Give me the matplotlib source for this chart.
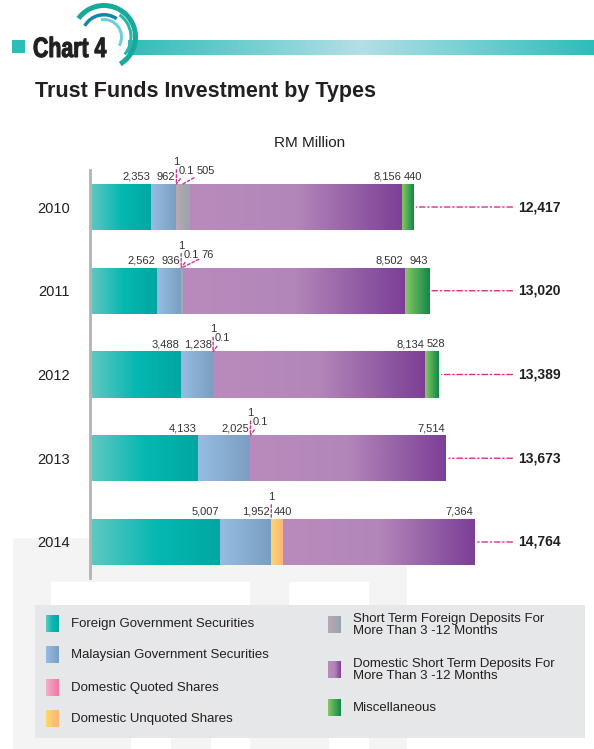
import numpy as np
import matplotlib.pyplot as plt
import matplotlib.transforms as mtransforms
from matplotlib.colors import LinearSegmentedColormap
from matplotlib.patches import Rectangle, Wedge, PathPatch
from matplotlib.textpath import TextPath
from matplotlib.font_manager import FontProperties

plt.rcParams['font.family'] = ['Liberation Sans', 'DejaVu Sans']

# RM million, by year
years = ["2010", "2011", "2012", "2013", "2014"]
totals = [12417, 13020, 13389, 13673, 14764]

foreign_gov = [2353, 2562, 3488, 4133, 5007]
malaysian_gov = [962, 936, 1238, 2025, 1952]
quoted_shares = [1, 1, 1, 1, 1]
unquoted_shares = [0.1, 0.1, 0.1, 0.1, 440]
st_foreign_deposits = [505, 76, 0, 0, 0]
st_domestic_deposits = [8156, 8502, 8134, 7514, 7364]
miscellaneous = [440, 943, 528, 0, 0]

series_names = [
    "Foreign Government Securities",
    "Malaysian Government Securities",
    "Domestic Quoted Shares",
    "Domestic Unquoted Shares",
    "Short Term Foreign Deposits For\nMore Than 3 -12 Months",
    "Domestic Short Term Deposits For\nMore Than 3 -12 Months",
    "Miscellaneous",
]
series = [foreign_gov, malaysian_gov, quoted_shares, unquoted_shares,
          st_foreign_deposits, st_domestic_deposits, miscellaneous]

# left -> right colour stops for each segment
gradients = [
    ["#63c8c2", "#06b8b2", "#00a7a1"],
    ["#95bde3", "#7a9ec0"],
    ["#f6aec8", "#ee77a6"],
    ["#fed86f", "#fbb37b"],
    ["#baa8b2", "#99a4ad"],
    ["#b98bbd", "#b386b9", "#7c3f96"],
    ["#88c765", "#108848"],
]
# quoted shares label sits on a raised row with a leader
raised = [False, False, True, False, False, False, False]

INK = "#231f20"
MAGENTA = "#d6308f"
W, H = 594, 749
ramp = np.linspace(0, 1, 256)[None, :]

fig = plt.figure(figsize=(W / 100, H / 100), dpi=100)

# page layer in pixel units
bg = fig.add_axes([0, 0, 1, 1], zorder=0)
bg.axis('off')

# faint watermark + legend panel
bg.add_patch(Rectangle((13, 538), 394, 211, color="#f4f4f4", lw=0))
for x0, y0, w, h in [(51, 582, 199, 23), (289, 582, 80, 23),
                     (131, 738, 40, 11), (211, 738, 39, 11), (329, 738, 40, 11)]:
    bg.add_patch(Rectangle((x0, y0), w, h, color="white", lw=0))
bg.add_patch(Rectangle((35, 605), 550, 133, color="#e6e7e8", lw=0))

# header strip
bg.add_patch(Rectangle((12, 40), 13, 13, color="#2cbdb7", lw=0))
band = LinearSegmentedColormap.from_list("band", ["#2fbdb8", "#b4dfe6", "#2dbdba"])
bg.imshow(ramp, cmap=band, extent=(128, W, 55, 40), aspect='auto', zorder=0.5)
cx, cy = 104, 37
for r, w, a, b, col in [(34, 5, -59, 144, "#19a99a"), (28.5, 3, -40, 55, "#2ab5a6"),
                        (24, 3.5, 55, 150, "#1486a8"), (19, 3, -30, 100, "#6ccfe0")]:
    bg.add_patch(Wedge((cx, cy), r, -b, -a, width=w, color=col, lw=0))

# condensed heavy heading drawn as a squeezed text path
head = TextPath((0, 0), "Chart 4", size=28,
                prop=FontProperties(family="Liberation Sans", weight="bold"))
squeeze = mtransforms.Affine2D().scale(0.76, -1).translate(33, 57)
bg.add_patch(PathPatch(head, transform=squeeze + bg.transData,
                       facecolor=INK, edgecolor=INK, lw=0.8, zorder=3))

bg.text(35, 92, "Trust Funds Investment by Types", weight="bold",
        fontsize=15.5, color=INK, va="center")
bg.text(310, 143, "RM Million", fontsize=11, color=INK, ha="center", va="center")

# legend
legend_pos = [(46, 624), (46, 655), (46, 688), (46, 719),
              (328, 625), (328, 670), (328, 708)]
for (lx, ly), name, cols in zip(legend_pos, series_names, gradients):
    cmap = LinearSegmentedColormap.from_list(name, cols)
    bg.imshow(ramp, cmap=cmap, extent=(lx, lx + 13, ly + 8.5, ly - 8.5),
              aspect='auto', zorder=3)
    bg.text(lx + 25, ly, name, fontsize=9.5, color=INK, va="center", linespacing=1.0)

bg.set_xlim(0, W)
bg.set_ylim(H, 0)

# chart
ax = fig.add_axes([90 / W, 1 - 578 / H, 500 / W, 408 / H], zorder=1)
ax.patch.set_alpha(0)
ypos = np.arange(len(years))
bar_h = 0.55
left = np.zeros(len(years))
containers = []
for vals, cols in zip(series, gradients):
    bars = ax.barh(ypos, vals, height=bar_h, left=left, color=cols[len(cols) // 2], lw=0, zorder=2)
    cmap = LinearSegmentedColormap.from_list("seg", cols)
    for rect in bars:
        if rect.get_width() <= 0:
            continue
        x0, y0 = rect.get_xy()
        im = ax.imshow(ramp, cmap=cmap, aspect='auto', zorder=2, interpolation='bilinear',
                       extent=(x0, x0 + rect.get_width(), y0 + rect.get_height(), y0))
        im.set_clip_path(rect)
    containers.append(bars)
    left = left + np.array(vals)

ax.set_xlim(0, max(totals) * 1.3)
ax.set_ylim(len(years) - 1 + 0.43, -0.442)
for s in ["top", "right", "bottom"]:
    ax.spines[s].set_visible(False)
ax.spines["left"].set_color("#b3b3b3")
ax.spines["left"].set_linewidth(2)
ax.set_xticks([])
ax.set_yticks(ypos, years)
ax.tick_params(axis="y", length=0, pad=14.4, labelsize=10.5, labelcolor=INK)

leader = dict(arrowstyle="-", color=MAGENTA, lw=1, linestyle=(0, (2, 1.5)),
              shrinkA=0, shrinkB=0)

# totals with dash-dot leaders
for i, t in enumerate(totals):
    ax.annotate(f"{t:,}", xy=(t, i), xytext=(0.856, i),
                textcoords=("axes fraction", "data"), ha="left", va="center",
                fontsize=10, weight="bold", color=INK,
                arrowprops=dict(arrowstyle="-", color=MAGENTA, lw=1,
                                linestyle=(0, (4, 2, 1, 2)), shrinkA=2, shrinkB=2))

# segment values above the bars, pushed right when they collide
fig.canvas.draw()
renderer = fig.canvas.get_renderer()
to_px = ax.transData.transform
for i in range(len(years)):
    top = i - bar_h / 2
    prev_right = -1e9
    for k, bars in enumerate(containers):
        v = series[k][i]
        if v == 0:
            continue
        rect = bars[i]
        x0 = rect.get_x()
        x1 = x0 + rect.get_width()
        xc = x0 + rect.get_width() / 2
        xc_px = to_px((xc, top))[0]
        xe_px = to_px((x1, top))[0]
        label = f"{v:,}"
        probe = ax.text(0, 0, label, fontsize=8)
        w = probe.get_window_extent(renderer).width
        probe.remove()
        style = dict(fontsize=8, color="#333333", textcoords="offset pixels", va="bottom")
        if raised[k]:
            ax.annotate(label, xy=(xc, top), xytext=(0, 17), ha="center",
                        arrowprops=leader, **style)
            continue
        lft = xe_px - 1 - w
        shifted = lft < prev_right + 3
        if shifted:
            lft = prev_right + 3
        if not shifted or lft <= xc_px:
            ax.annotate(label, xy=(x1, top), xytext=(lft + w - xe_px, 2), ha="right", **style)
        else:
            ax.annotate(label, xy=(xc, top), xytext=(lft + w / 2 - xc_px, 8), ha="center",
                        arrowprops=leader, **style)
        prev_right = lft + w

fig.savefig("out.png", dpi=100)
